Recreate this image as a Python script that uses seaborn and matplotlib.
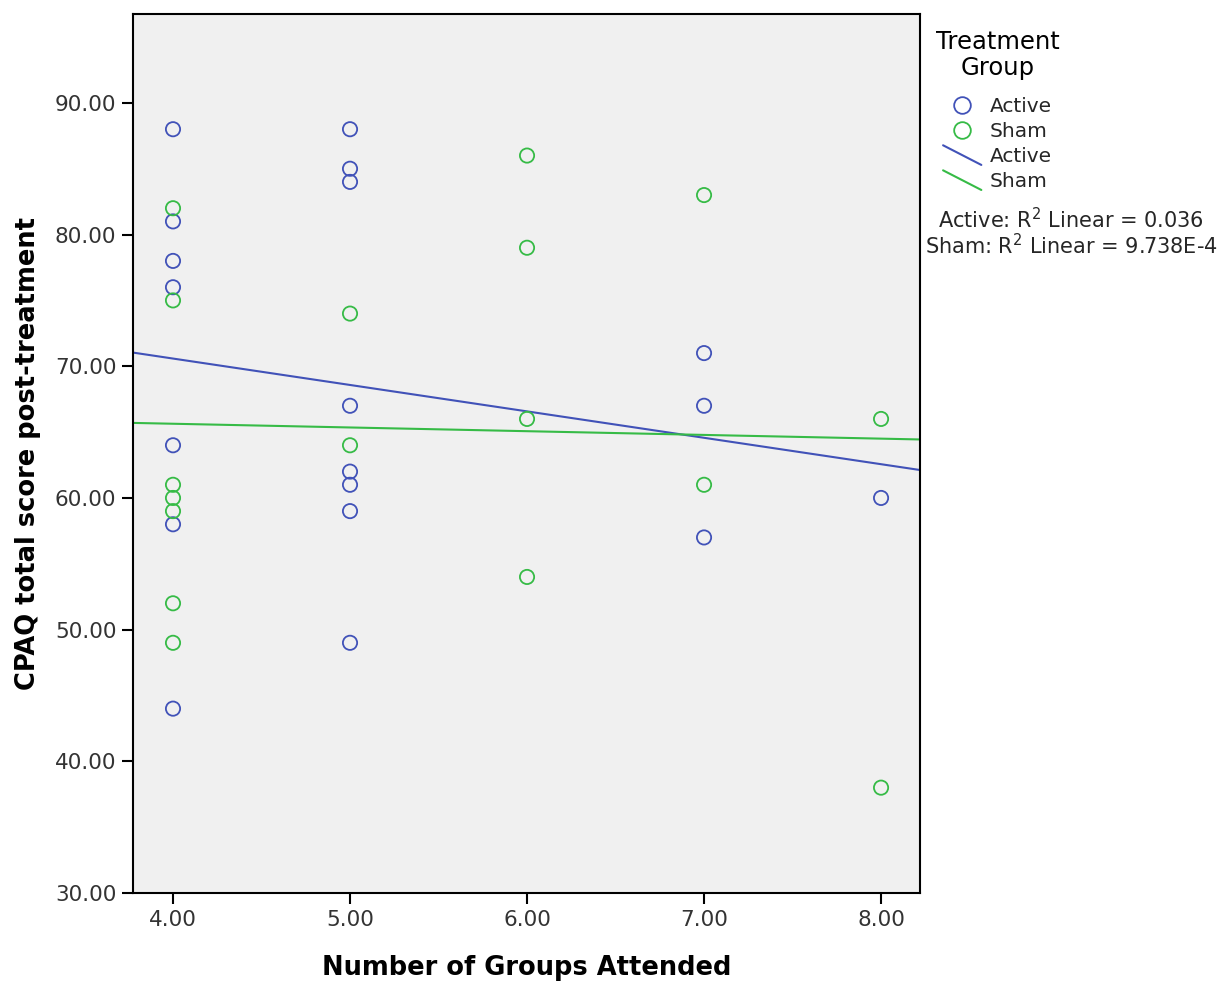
import numpy as np
import pandas as pd
import seaborn as sns
import matplotlib.pyplot as plt
from matplotlib.lines import Line2D
from matplotlib.legend_handler import HandlerBase

# ------------------------------------------------------------
# Data
# ------------------------------------------------------------
active_x = [4, 4, 4, 4, 4, 4, 4, 5, 5, 5, 5, 5, 5, 5, 5, 7, 7, 7, 8]
active_y = [88, 81, 78, 76, 64, 58, 44, 88, 85, 84, 67, 62, 61, 59, 49, 71, 67, 57, 60]
sham_x = [4, 4, 4, 4, 4, 4, 4, 5, 5, 6, 6, 6, 6, 7, 7, 8, 8]
sham_y = [82, 75, 61, 60, 59, 52, 49, 74, 64, 86, 79, 66, 54, 83, 61, 66, 38]
x_ticks = [4, 5, 6, 7, 8]
y_ticks = [30, 40, 50, 60, 70, 80, 90]

active_color = "#4152B8"
sham_color = "#36BB46"

df = pd.concat([
    pd.DataFrame({"groups": active_x, "score": active_y, "group": "Active"}),
    pd.DataFrame({"groups": sham_x, "score": sham_y, "group": "Sham"}),
])
palette = {"Active": active_color, "Sham": sham_color}


# SPSS-style legend key for fit lines: a short diagonal stroke
class DiagonalLineHandler(HandlerBase):
    def create_artists(self, legend, orig_handle, xdescent, ydescent,
                       width, height, fontsize, trans):
        line = Line2D([-xdescent, width - xdescent],
                      [height - ydescent + 2, -ydescent - 2],
                      color=orig_handle.get_color(), lw=orig_handle.get_linewidth())
        line.set_transform(trans)
        return [line]


sns.set_style("white")
plt.rcParams["font.family"] = ["DejaVu Sans"]

fig = plt.figure(figsize=(12.25, 9.86), dpi=100)
ax = fig.add_axes([133 / 1225, 1 - 893 / 986, (920 - 133) / 1225, (893 - 14) / 986])
ax.set_facecolor("#F0F0F0")
ax.set_xlim(3.774, 8.22)
ax.set_ylim(30, 96.75)

# scatter (open circles)
for name, sub in df.groupby("group"):
    ax.scatter(sub["groups"], sub["score"], s=105, facecolors="none",
               edgecolors=palette[name], linewidths=1.3, zorder=3)

# fit lines across the full axis range
for name, sub in df.groupby("group"):
    sns.regplot(data=sub, x="groups", y="score", ax=ax, scatter=False, ci=None,
                truncate=False, color=palette[name], line_kws={"lw": 1.5})

ax.set_xticks(x_ticks)
ax.set_xticklabels([f"{v:.2f}" for v in x_ticks])
ax.set_yticks(y_ticks)
ax.set_yticklabels([f"{v:.2f}" for v in y_ticks])
ax.tick_params(axis="both", direction="out", length=8, width=1.5, labelsize=15.5,
               colors="black", labelcolor="#333333", pad=4)
ax.tick_params(left=True, bottom=True)
for side in ax.spines.values():
    side.set_color("black")
    side.set_linewidth(1.5)

ax.set_xlabel("Number of Groups Attended", fontsize=18.5, fontweight="bold",
              labelpad=18, color="black")
ax.set_ylabel("CPAQ total score post-treatment", fontsize=18.5, fontweight="bold",
              labelpad=10, color="black")
ax.set_xlim(3.774, 8.22)

# legend outside the plot area
handles = [
    Line2D([], [], marker="o", ls="none", markersize=12, markerfacecolor="none",
           markeredgecolor=active_color, markeredgewidth=1.3),
    Line2D([], [], marker="o", ls="none", markersize=12, markerfacecolor="none",
           markeredgecolor=sham_color, markeredgewidth=1.3),
    Line2D([], [], color=active_color, lw=1.5),
    Line2D([], [], color=sham_color, lw=1.5),
]
handler_map = {handles[2]: DiagonalLineHandler(), handles[3]: DiagonalLineHandler()}
leg = fig.legend(handles, ["Active", "Sham", "Active", "Sham"],
                 loc="upper left",
                 bbox_to_anchor=(933 / 1225, 1 - 87 / 986), frameon=False,
                 fontsize=14.5, handlelength=1.9,
                 handletextpad=0.4, labelspacing=0.3, borderpad=0,
                 handler_map=handler_map)

fig.text(998 / 1225, 1 - 55 / 986, "Treatment\nGroup", ha="center", va="center",
         fontsize=17.5, linespacing=1.15, color="black")

fig.text(1071 / 1225, 1 - 220 / 986, "Active: R$^2$ Linear = 0.036",
         ha="center", va="center", fontsize=15)
fig.text(1071 / 1225, 1 - 246 / 986, "Sham: R$^2$ Linear = 9.738E-4",
         ha="center", va="center", fontsize=15)

fig.savefig("out.png", dpi=100)
